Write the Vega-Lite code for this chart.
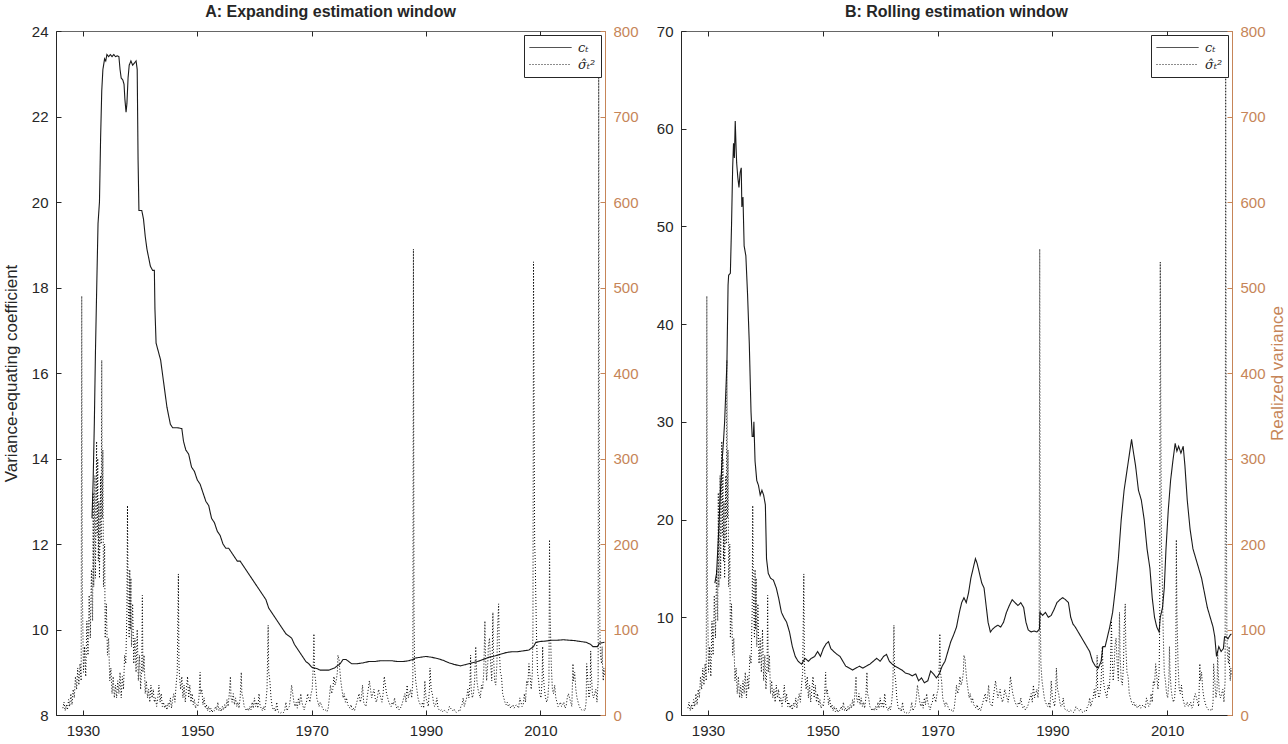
{
  "$schema": "https://vega.github.io/schema/vega-lite/v6.json",
  "background": "white",
  "padding": {"left": 1, "top": 3, "right": 0, "bottom": 0},
  "config": {
    "font": "Liberation Sans",
    "view": {"stroke": "#666666", "strokeWidth": 1},
    "axis": {"grid": false, "labelFont": "Liberation Sans", "labelFontSize": 15, "labelColor": "#262626", "domainColor": "#262626", "tickColor": "#262626", "tickSize": -5, "labelPadding": 13, "titleFont": "Liberation Sans", "titleFontSize": 17, "titleFontWeight": "normal", "titleColor": "#262626", "titlePadding": 11},
    "title": {"font": "Liberation Sans", "fontSize": 16, "fontWeight": "bold", "color": "#262626", "offset": 4},
    "legend": {"orient": "top-right", "offset": 4, "strokeColor": "#262626", "fillColor": "white", "padding": 5, "symbolType": "M-1,0H5", "symbolSize": 196, "symbolStrokeColor": "#1a1a1a", "symbolStrokeWidth": 1, "symbolFillColor": "transparent", "labelOffset": 34, "labelFont": "DejaVu Serif", "labelFontStyle": "italic", "labelFontSize": 13, "labelColor": "#262626", "rowPadding": 2, "title": null}
  },
  "datasets": {
    "rv": [
      {"t":1926.5,"v":8},{"t":1926.7,"v":15},{"t":1926.9,"v":5},{"t":1927.1,"v":12},{"t":1927.3,"v":6},{"t":1927.5,"v":18},{"t":1927.7,"v":10},{"t":1927.9,"v":25},{"t":1928.1,"v":12},{"t":1928.3,"v":30},{"t":1928.5,"v":20},{"t":1928.7,"v":45},{"t":1928.9,"v":30},{"t":1929.1,"v":55},{"t":1929.3,"v":35},{"t":1929.5,"v":60},{"t":1929.7,"v":40},{"t":1929.8,"v":490},{"t":1929.9,"v":150},
      {"t":1930.1,"v":50},{"t":1930.3,"v":80},{"t":1930.5,"v":45},{"t":1930.7,"v":110},{"t":1930.9,"v":70},{"t":1931.1,"v":140},{"t":1931.3,"v":90},{"t":1931.5,"v":170},{"t":1931.7,"v":110},{"t":1931.8,"v":260},{"t":1931.9,"v":150},{"t":1932.1,"v":280},{"t":1932.2,"v":160},{"t":1932.4,"v":320},{"t":1932.5,"v":210},{"t":1932.6,"v":300},{"t":1932.7,"v":180},{"t":1932.8,"v":250},{"t":1932.9,"v":160},{"t":1933.1,"v":280},{"t":1933.2,"v":200},{"t":1933.3,"v":415},{"t":1933.4,"v":230},{"t":1933.5,"v":310},{"t":1933.6,"v":150},{"t":1933.8,"v":200},{"t":1933.9,"v":90},
      {"t":1934.1,"v":130},{"t":1934.3,"v":70},{"t":1934.5,"v":90},{"t":1934.7,"v":40},{"t":1934.9,"v":55},{"t":1935.1,"v":25},{"t":1935.3,"v":45},{"t":1935.5,"v":20},{"t":1935.7,"v":35},{"t":1935.9,"v":20},{"t":1936.1,"v":40},{"t":1936.3,"v":25},{"t":1936.5,"v":50},{"t":1936.7,"v":20},{"t":1936.9,"v":45},{"t":1937.1,"v":30},{"t":1937.3,"v":70},{"t":1937.5,"v":60},{"t":1937.7,"v":120},{"t":1937.8,"v":245},{"t":1937.9,"v":140},
      {"t":1938.1,"v":90},{"t":1938.2,"v":170},{"t":1938.3,"v":100},{"t":1938.4,"v":160},{"t":1938.5,"v":80},{"t":1938.7,"v":130},{"t":1938.9,"v":60},{"t":1939.1,"v":90},{"t":1939.3,"v":50},{"t":1939.5,"v":100},{"t":1939.7,"v":40},{"t":1939.9,"v":70},{"t":1940.1,"v":30},{"t":1940.3,"v":60},{"t":1940.4,"v":140},{"t":1940.5,"v":50},{"t":1940.7,"v":70},{"t":1940.9,"v":25},
      {"t":1941.1,"v":40},{"t":1941.3,"v":20},{"t":1941.5,"v":30},{"t":1941.7,"v":15},{"t":1941.9,"v":35},{"t":1942.1,"v":20},{"t":1942.3,"v":30},{"t":1942.5,"v":15},{"t":1942.7,"v":20},{"t":1942.9,"v":10},{"t":1943.1,"v":20},{"t":1943.3,"v":35},{"t":1943.5,"v":15},{"t":1943.7,"v":25},{"t":1943.9,"v":10},{"t":1944.1,"v":15},{"t":1944.3,"v":8},{"t":1944.5,"v":12},{"t":1944.7,"v":6},{"t":1944.9,"v":14},
      {"t":1945.1,"v":10},{"t":1945.3,"v":20},{"t":1945.5,"v":8},{"t":1945.7,"v":18},{"t":1945.9,"v":25},{"t":1946.1,"v":15},{"t":1946.3,"v":35},{"t":1946.5,"v":50},{"t":1946.7,"v":165},{"t":1946.8,"v":60},{"t":1946.9,"v":45},{"t":1947.1,"v":30},{"t":1947.3,"v":45},{"t":1947.5,"v":20},{"t":1947.7,"v":35},{"t":1947.9,"v":15},{"t":1948.1,"v":30},{"t":1948.3,"v":45},{"t":1948.5,"v":20},{"t":1948.7,"v":35},{"t":1948.9,"v":15},{"t":1949.1,"v":25},{"t":1949.3,"v":12},{"t":1949.5,"v":18},{"t":1949.7,"v":8},{"t":1949.9,"v":12},
      {"t":1950.1,"v":10},{"t":1950.3,"v":20},{"t":1950.5,"v":50},{"t":1950.6,"v":25},{"t":1950.8,"v":30},{"t":1951.0,"v":12},{"t":1951.2,"v":20},{"t":1951.4,"v":8},{"t":1951.6,"v":12},{"t":1951.8,"v":5},{"t":1952.0,"v":10},{"t":1952.2,"v":4},{"t":1952.4,"v":8},{"t":1952.6,"v":3},{"t":1952.8,"v":6},{"t":1953.0,"v":5},{"t":1953.2,"v":10},{"t":1953.4,"v":6},{"t":1953.6,"v":15},{"t":1953.8,"v":5},{"t":1954.0,"v":8},{"t":1954.2,"v":4},{"t":1954.4,"v":10},{"t":1954.6,"v":6},{"t":1954.8,"v":12},
      {"t":1955.0,"v":8},{"t":1955.2,"v":18},{"t":1955.4,"v":10},{"t":1955.6,"v":25},{"t":1955.8,"v":45},{"t":1955.9,"v":20},{"t":1956.1,"v":15},{"t":1956.3,"v":25},{"t":1956.5,"v":12},{"t":1956.7,"v":20},{"t":1956.9,"v":10},{"t":1957.1,"v":15},{"t":1957.3,"v":8},{"t":1957.5,"v":20},{"t":1957.7,"v":50},{"t":1957.8,"v":25},{"t":1958.0,"v":20},{"t":1958.2,"v":10},{"t":1958.4,"v":8},{"t":1958.6,"v":5},{"t":1958.8,"v":8},{"t":1959.0,"v":5},{"t":1959.2,"v":10},{"t":1959.4,"v":6},{"t":1959.6,"v":15},{"t":1959.8,"v":8},
      {"t":1960.0,"v":20},{"t":1960.2,"v":10},{"t":1960.4,"v":15},{"t":1960.6,"v":8},{"t":1960.8,"v":25},{"t":1961.0,"v":10},{"t":1961.2,"v":8},{"t":1961.4,"v":5},{"t":1961.6,"v":10},{"t":1961.8,"v":6},{"t":1962.0,"v":15},{"t":1962.2,"v":30},{"t":1962.4,"v":105},{"t":1962.5,"v":50},{"t":1962.7,"v":40},{"t":1962.9,"v":20},{"t":1963.1,"v":10},{"t":1963.3,"v":6},{"t":1963.5,"v":8},{"t":1963.7,"v":4},{"t":1963.9,"v":15},{"t":1964.1,"v":4},{"t":1964.3,"v":3},{"t":1964.5,"v":2},{"t":1964.7,"v":3},{"t":1964.9,"v":2},
      {"t":1965.1,"v":3},{"t":1965.3,"v":6},{"t":1965.5,"v":15},{"t":1965.7,"v":5},{"t":1965.9,"v":8},{"t":1966.1,"v":10},{"t":1966.3,"v":20},{"t":1966.5,"v":35},{"t":1966.7,"v":25},{"t":1966.9,"v":15},{"t":1967.1,"v":10},{"t":1967.3,"v":15},{"t":1967.5,"v":8},{"t":1967.7,"v":20},{"t":1967.9,"v":12},{"t":1968.1,"v":25},{"t":1968.3,"v":15},{"t":1968.5,"v":10},{"t":1968.7,"v":6},{"t":1968.9,"v":12},{"t":1969.1,"v":15},{"t":1969.3,"v":25},{"t":1969.5,"v":20},{"t":1969.7,"v":15},{"t":1969.9,"v":25},
      {"t":1970.1,"v":30},{"t":1970.3,"v":60},{"t":1970.4,"v":95},{"t":1970.5,"v":50},{"t":1970.7,"v":40},{"t":1970.9,"v":20},{"t":1971.1,"v":15},{"t":1971.3,"v":10},{"t":1971.5,"v":15},{"t":1971.7,"v":12},{"t":1971.9,"v":8},{"t":1972.1,"v":6},{"t":1972.3,"v":5},{"t":1972.5,"v":6},{"t":1972.7,"v":4},{"t":1972.9,"v":8},{"t":1973.1,"v":20},{"t":1973.3,"v":35},{"t":1973.5,"v":25},{"t":1973.7,"v":30},{"t":1973.9,"v":45},{"t":1974.1,"v":35},{"t":1974.3,"v":40},{"t":1974.5,"v":50},{"t":1974.6,"v":70},{"t":1974.8,"v":65},{"t":1974.9,"v":55},
      {"t":1975.1,"v":40},{"t":1975.3,"v":30},{"t":1975.5,"v":20},{"t":1975.7,"v":25},{"t":1975.9,"v":15},{"t":1976.1,"v":20},{"t":1976.3,"v":12},{"t":1976.5,"v":10},{"t":1976.7,"v":8},{"t":1976.9,"v":12},{"t":1977.1,"v":6},{"t":1977.3,"v":8},{"t":1977.5,"v":5},{"t":1977.7,"v":10},{"t":1977.9,"v":15},{"t":1978.1,"v":20},{"t":1978.3,"v":25},{"t":1978.5,"v":15},{"t":1978.7,"v":20},{"t":1978.9,"v":35},{"t":1979.1,"v":15},{"t":1979.3,"v":12},{"t":1979.5,"v":10},{"t":1979.7,"v":20},{"t":1979.9,"v":30},
      {"t":1980.1,"v":40},{"t":1980.3,"v":30},{"t":1980.5,"v":20},{"t":1980.7,"v":25},{"t":1980.9,"v":30},{"t":1981.1,"v":20},{"t":1981.3,"v":15},{"t":1981.5,"v":20},{"t":1981.7,"v":30},{"t":1981.9,"v":25},{"t":1982.1,"v":20},{"t":1982.3,"v":15},{"t":1982.5,"v":25},{"t":1982.7,"v":45},{"t":1982.9,"v":35},{"t":1983.1,"v":25},{"t":1983.3,"v":20},{"t":1983.5,"v":15},{"t":1983.7,"v":12},{"t":1983.9,"v":10},{"t":1984.1,"v":15},{"t":1984.3,"v":12},{"t":1984.5,"v":20},{"t":1984.7,"v":12},{"t":1984.9,"v":8},
      {"t":1985.1,"v":10},{"t":1985.3,"v":6},{"t":1985.5,"v":8},{"t":1985.7,"v":10},{"t":1985.9,"v":15},{"t":1986.1,"v":20},{"t":1986.3,"v":25},{"t":1986.5,"v":15},{"t":1986.7,"v":35},{"t":1986.9,"v":20},{"t":1987.1,"v":25},{"t":1987.3,"v":30},{"t":1987.5,"v":20},{"t":1987.7,"v":40},{"t":1987.8,"v":545},{"t":1987.9,"v":120},{"t":1988.0,"v":60},{"t":1988.2,"v":40},{"t":1988.4,"v":30},{"t":1988.6,"v":20},{"t":1988.8,"v":15},{"t":1989.0,"v":12},{"t":1989.2,"v":10},{"t":1989.4,"v":15},{"t":1989.6,"v":8},{"t":1989.8,"v":40},
      {"t":1990.0,"v":20},{"t":1990.2,"v":15},{"t":1990.4,"v":10},{"t":1990.6,"v":30},{"t":1990.7,"v":55},{"t":1990.9,"v":30},{"t":1991.1,"v":25},{"t":1991.3,"v":15},{"t":1991.5,"v":10},{"t":1991.7,"v":12},{"t":1991.9,"v":20},{"t":1992.1,"v":8},{"t":1992.3,"v":6},{"t":1992.5,"v":5},{"t":1992.7,"v":6},{"t":1992.9,"v":4},{"t":1993.1,"v":6},{"t":1993.3,"v":5},{"t":1993.5,"v":4},{"t":1993.7,"v":3},{"t":1993.9,"v":5},{"t":1994.1,"v":10},{"t":1994.3,"v":8},{"t":1994.5,"v":6},{"t":1994.7,"v":5},{"t":1994.9,"v":7},
      {"t":1995.1,"v":4},{"t":1995.3,"v":3},{"t":1995.5,"v":4},{"t":1995.7,"v":5},{"t":1995.9,"v":4},{"t":1996.1,"v":10},{"t":1996.3,"v":12},{"t":1996.5,"v":20},{"t":1996.7,"v":10},{"t":1996.9,"v":15},{"t":1997.1,"v":20},{"t":1997.3,"v":30},{"t":1997.5,"v":20},{"t":1997.7,"v":40},{"t":1997.8,"v":70},{"t":1997.9,"v":30},{"t":1998.1,"v":20},{"t":1998.3,"v":25},{"t":1998.5,"v":40},{"t":1998.7,"v":80},{"t":1998.8,"v":60},{"t":1998.9,"v":40},{"t":1999.1,"v":30},{"t":1999.3,"v":25},{"t":1999.5,"v":20},{"t":1999.7,"v":35},{"t":1999.9,"v":30},
      {"t":2000.1,"v":50},{"t":2000.3,"v":110},{"t":2000.4,"v":70},{"t":2000.6,"v":40},{"t":2000.8,"v":60},{"t":2000.9,"v":80},{"t":2001.1,"v":90},{"t":2001.3,"v":60},{"t":2001.5,"v":40},{"t":2001.7,"v":120},{"t":2001.8,"v":70},{"t":2002.0,"v":40},{"t":2002.2,"v":35},{"t":2002.4,"v":60},{"t":2002.5,"v":100},{"t":2002.7,"v":130},{"t":2002.8,"v":80},{"t":2003.0,"v":50},{"t":2003.2,"v":45},{"t":2003.4,"v":25},{"t":2003.6,"v":20},{"t":2003.8,"v":15},{"t":2004.0,"v":12},{"t":2004.2,"v":15},{"t":2004.4,"v":10},{"t":2004.6,"v":12},{"t":2004.8,"v":8},
      {"t":2005.0,"v":10},{"t":2005.2,"v":12},{"t":2005.4,"v":8},{"t":2005.6,"v":10},{"t":2005.8,"v":12},{"t":2006.0,"v":10},{"t":2006.2,"v":8},{"t":2006.4,"v":20},{"t":2006.6,"v":15},{"t":2006.8,"v":10},{"t":2007.0,"v":12},{"t":2007.2,"v":25},{"t":2007.4,"v":15},{"t":2007.6,"v":40},{"t":2007.8,"v":35},{"t":2008.0,"v":60},{"t":2008.2,"v":45},{"t":2008.4,"v":30},{"t":2008.6,"v":50},{"t":2008.7,"v":100},{"t":2008.8,"v":530},{"t":2008.9,"v":350},{"t":2009.0,"v":200},{"t":2009.1,"v":180},{"t":2009.3,"v":100},{"t":2009.5,"v":50},{"t":2009.7,"v":40},{"t":2009.9,"v":25},
      {"t":2010.1,"v":20},{"t":2010.3,"v":40},{"t":2010.4,"v":80},{"t":2010.5,"v":50},{"t":2010.7,"v":30},{"t":2010.9,"v":20},{"t":2011.1,"v":15},{"t":2011.3,"v":20},{"t":2011.5,"v":40},{"t":2011.6,"v":205},{"t":2011.7,"v":120},{"t":2011.9,"v":60},{"t":2012.1,"v":30},{"t":2012.3,"v":25},{"t":2012.5,"v":35},{"t":2012.7,"v":20},{"t":2012.9,"v":15},{"t":2013.1,"v":10},{"t":2013.3,"v":12},{"t":2013.5,"v":15},{"t":2013.7,"v":10},{"t":2013.9,"v":12},{"t":2014.1,"v":15},{"t":2014.3,"v":8},{"t":2014.5,"v":10},{"t":2014.7,"v":20},{"t":2014.9,"v":25},
      {"t":2015.1,"v":20},{"t":2015.3,"v":15},{"t":2015.5,"v":10},{"t":2015.7,"v":60},{"t":2015.8,"v":40},{"t":2016.0,"v":50},{"t":2016.2,"v":30},{"t":2016.4,"v":20},{"t":2016.6,"v":15},{"t":2016.8,"v":10},{"t":2017.0,"v":8},{"t":2017.2,"v":6},{"t":2017.4,"v":5},{"t":2017.6,"v":6},{"t":2017.8,"v":5},{"t":2018.0,"v":15},{"t":2018.1,"v":60},{"t":2018.3,"v":40},{"t":2018.5,"v":20},{"t":2018.7,"v":30},{"t":2018.8,"v":75},{"t":2018.9,"v":50},{"t":2019.1,"v":25},{"t":2019.3,"v":20},{"t":2019.5,"v":25},{"t":2019.7,"v":30},{"t":2019.9,"v":15},
      {"t":2020.1,"v":40},{"t":2020.2,"v":745},{"t":2020.3,"v":300},{"t":2020.4,"v":100},{"t":2020.5,"v":70},{"t":2020.7,"v":60},{"t":2020.8,"v":80},{"t":2020.9,"v":50},{"t":2021.0,"v":40},{"t":2021.1,"v":55},{"t":2021.2,"v":45}
    ],
    "ca": [
      {"t":1931.6,"c":12.6},{"t":1931.8,"c":13.5},{"t":1932.0,"c":14.8},{"t":1932.2,"c":16.5},{"t":1932.45,"c":18.2},{"t":1932.65,"c":19.5},{"t":1932.9,"c":20.0},{"t":1933.1,"c":21.5},{"t":1933.3,"c":22.6},{"t":1933.5,"c":23.1},{"t":1933.8,"c":23.35},{"t":1934.0,"c":23.3},{"t":1934.2,"c":23.45},{"t":1934.5,"c":23.4},{"t":1934.8,"c":23.45},{"t":1935.1,"c":23.4},{"t":1935.4,"c":23.45},{"t":1935.7,"c":23.4},{"t":1936.0,"c":23.42},{"t":1936.3,"c":23.4},{"t":1936.5,"c":23.1},{"t":1936.7,"c":22.9},{"t":1937.0,"c":22.85},{"t":1937.2,"c":22.75},{"t":1937.35,"c":22.4},{"t":1937.55,"c":22.1},{"t":1937.7,"c":22.3},{"t":1937.9,"c":22.9},{"t":1938.1,"c":23.2},{"t":1938.4,"c":23.3},{"t":1938.7,"c":23.2},{"t":1939.0,"c":23.25},{"t":1939.3,"c":23.3},{"t":1939.5,"c":23.1},{"t":1939.65,"c":21.0},{"t":1939.8,"c":19.8},{"t":1940.3,"c":19.8},{"t":1940.6,"c":19.6},{"t":1940.9,"c":19.2},{"t":1941.2,"c":18.9},{"t":1941.5,"c":18.7},{"t":1941.8,"c":18.5},{"t":1942.2,"c":18.4},{"t":1942.5,"c":18.4},{"t":1942.6,"c":17.5},{"t":1942.8,"c":16.7},{"t":1943.2,"c":16.5},{"t":1943.6,"c":16.3},{"t":1944.0,"c":15.9},{"t":1944.3,"c":15.6},{"t":1944.7,"c":15.2},{"t":1945.0,"c":15.0},{"t":1945.3,"c":14.8},{"t":1945.7,"c":14.72},{"t":1946.5,"c":14.72},{"t":1947.3,"c":14.7},{"t":1947.6,"c":14.4},{"t":1948.0,"c":14.2},{"t":1948.5,"c":14.1},{"t":1949.0,"c":13.8},{"t":1949.5,"c":13.7},{"t":1950.0,"c":13.5},{"t":1950.5,"c":13.4},{"t":1951.0,"c":13.2},{"t":1951.5,"c":13.0},{"t":1952.0,"c":12.9},{"t":1952.5,"c":12.6},{"t":1953.0,"c":12.5},{"t":1953.5,"c":12.3},{"t":1954.0,"c":12.2},{"t":1954.5,"c":12.0},{"t":1955.0,"c":11.9},{"t":1955.5,"c":11.9},{"t":1956.0,"c":11.8},{"t":1956.5,"c":11.7},{"t":1957.0,"c":11.6},{"t":1957.5,"c":11.6},{"t":1958.0,"c":11.5},{"t":1958.5,"c":11.4},{"t":1959.0,"c":11.3},{"t":1959.5,"c":11.2},{"t":1960.0,"c":11.1},{"t":1960.5,"c":11.0},{"t":1961.0,"c":10.9},{"t":1961.5,"c":10.8},{"t":1962.0,"c":10.7},{"t":1962.5,"c":10.5},{"t":1963.0,"c":10.4},{"t":1963.5,"c":10.3},{"t":1964.0,"c":10.2},{"t":1964.5,"c":10.1},{"t":1965.0,"c":10.0},{"t":1965.5,"c":9.9},{"t":1966.0,"c":9.85},{"t":1966.5,"c":9.8},{"t":1967.0,"c":9.65},{"t":1967.5,"c":9.55},{"t":1968.0,"c":9.45},{"t":1968.5,"c":9.35},{"t":1969.0,"c":9.25},{"t":1969.5,"c":9.2},{"t":1970.0,"c":9.12},{"t":1970.5,"c":9.1},{"t":1971.0,"c":9.08},{"t":1971.5,"c":9.05},{"t":1972.0,"c":9.05},{"t":1973.0,"c":9.05},{"t":1974.0,"c":9.1},{"t":1974.5,"c":9.15},{"t":1975.0,"c":9.2},{"t":1975.5,"c":9.3},{"t":1976.0,"c":9.3},{"t":1976.5,"c":9.25},{"t":1977.0,"c":9.2},{"t":1978.0,"c":9.2},{"t":1979.0,"c":9.22},{"t":1980.0,"c":9.25},{"t":1981.0,"c":9.25},{"t":1982.0,"c":9.27},{"t":1983.0,"c":9.27},{"t":1984.0,"c":9.27},{"t":1985.0,"c":9.25},{"t":1986.0,"c":9.25},{"t":1987.0,"c":9.27},{"t":1987.8,"c":9.3},{"t":1988.0,"c":9.33},{"t":1989.0,"c":9.35},{"t":1990.0,"c":9.37},{"t":1991.0,"c":9.35},{"t":1992.0,"c":9.32},{"t":1993.0,"c":9.28},{"t":1994.0,"c":9.22},{"t":1995.0,"c":9.18},{"t":1996.0,"c":9.15},{"t":1997.0,"c":9.18},{"t":1998.0,"c":9.22},{"t":1999.0,"c":9.25},{"t":2000.0,"c":9.3},{"t":2001.0,"c":9.35},{"t":2002.0,"c":9.38},{"t":2003.0,"c":9.42},{"t":2004.0,"c":9.46},{"t":2005.0,"c":9.48},{"t":2006.0,"c":9.48},{"t":2007.0,"c":9.5},{"t":2008.0,"c":9.52},{"t":2008.8,"c":9.6},{"t":2009.2,"c":9.7},{"t":2010.0,"c":9.72},{"t":2011.0,"c":9.73},{"t":2012.0,"c":9.75},{"t":2013.0,"c":9.75},{"t":2014.0,"c":9.76},{"t":2015.0,"c":9.75},{"t":2016.0,"c":9.74},{"t":2017.0,"c":9.72},{"t":2018.0,"c":9.7},{"t":2018.8,"c":9.65},{"t":2019.2,"c":9.6},{"t":2020.0,"c":9.6},{"t":2020.3,"c":9.68},{"t":2021.2,"c":9.7}
    ],
    "cb": [
      {"t":1931.2,"c":13.5},{"t":1931.5,"c":14.5},{"t":1931.8,"c":18},{"t":1932.1,"c":22},{"t":1932.4,"c":25.5},{"t":1932.7,"c":28},{"t":1932.9,"c":30},{"t":1933.1,"c":33},{"t":1933.3,"c":36},{"t":1933.5,"c":44},{"t":1933.6,"c":45},{"t":1933.9,"c":45.2},{"t":1934.1,"c":50},{"t":1934.3,"c":56},{"t":1934.45,"c":58.5},{"t":1934.6,"c":57},{"t":1934.75,"c":60.8},{"t":1934.9,"c":58},{"t":1935.0,"c":56.5},{"t":1935.2,"c":55},{"t":1935.4,"c":54},{"t":1935.6,"c":55.5},{"t":1935.8,"c":56},{"t":1935.9,"c":52},{"t":1936.1,"c":53},{"t":1936.3,"c":48},{"t":1936.6,"c":47},{"t":1936.9,"c":43},{"t":1937.2,"c":38},{"t":1937.5,"c":31},{"t":1937.7,"c":28.5},{"t":1937.9,"c":28.5},{"t":1938.0,"c":30},{"t":1938.2,"c":26},{"t":1938.5,"c":24},{"t":1938.8,"c":23.5},{"t":1939.1,"c":22.5},{"t":1939.4,"c":23},{"t":1939.7,"c":22.5},{"t":1940.0,"c":21.5},{"t":1940.2,"c":16},{"t":1940.5,"c":14.5},{"t":1940.9,"c":14},{"t":1941.4,"c":13.8},{"t":1941.9,"c":13},{"t":1942.3,"c":12},{"t":1942.8,"c":10.5},{"t":1943.2,"c":10},{"t":1943.7,"c":9.5},{"t":1944.2,"c":8.5},{"t":1944.7,"c":7},{"t":1945.2,"c":6},{"t":1945.7,"c":5.5},{"t":1946.3,"c":5.2},{"t":1946.9,"c":5.8},{"t":1947.5,"c":5.5},{"t":1948.0,"c":5.8},{"t":1948.6,"c":6},{"t":1949.1,"c":6.5},{"t":1949.6,"c":6},{"t":1950.1,"c":6.8},{"t":1950.6,"c":7.3},{"t":1951.0,"c":7.5},{"t":1951.4,"c":6.8},{"t":1951.9,"c":6.5},{"t":1952.5,"c":6.2},{"t":1953.0,"c":6},{"t":1953.5,"c":5.5},{"t":1954.0,"c":5},{"t":1954.6,"c":4.8},{"t":1955.2,"c":4.6},{"t":1955.8,"c":4.8},{"t":1956.4,"c":5},{"t":1957.0,"c":4.8},{"t":1957.6,"c":5},{"t":1958.2,"c":5.2},{"t":1958.8,"c":5.5},{"t":1959.4,"c":5.8},{"t":1960.0,"c":5.5},{"t":1960.6,"c":6},{"t":1961.1,"c":6.2},{"t":1961.6,"c":5.5},{"t":1962.1,"c":5.2},{"t":1962.6,"c":5},{"t":1963.2,"c":4.8},{"t":1963.8,"c":4.6},{"t":1964.4,"c":4.3},{"t":1965.0,"c":4.2},{"t":1965.6,"c":4},{"t":1966.2,"c":4.2},{"t":1966.7,"c":3.5},{"t":1967.2,"c":3.8},{"t":1967.7,"c":3.3},{"t":1968.3,"c":3.5},{"t":1968.8,"c":4.5},{"t":1969.3,"c":4.2},{"t":1969.8,"c":3.8},{"t":1970.3,"c":4.2},{"t":1970.8,"c":5},{"t":1971.3,"c":5.5},{"t":1971.8,"c":6.5},{"t":1972.3,"c":7.5},{"t":1972.8,"c":8.2},{"t":1973.3,"c":9},{"t":1973.8,"c":10.5},{"t":1974.2,"c":11.5},{"t":1974.6,"c":12},{"t":1975.0,"c":11.5},{"t":1975.4,"c":12.5},{"t":1975.8,"c":14},{"t":1976.2,"c":15},{"t":1976.6,"c":16},{"t":1976.9,"c":15.5},{"t":1977.3,"c":14.5},{"t":1977.7,"c":13.5},{"t":1978.1,"c":13},{"t":1978.4,"c":11.5},{"t":1978.8,"c":9.5},{"t":1979.2,"c":8.5},{"t":1979.6,"c":8.8},{"t":1980.0,"c":9},{"t":1980.5,"c":9.2},{"t":1981.0,"c":9},{"t":1981.5,"c":9.5},{"t":1982.0,"c":10.5},{"t":1982.5,"c":11.2},{"t":1983.0,"c":11.8},{"t":1983.5,"c":11.5},{"t":1984.0,"c":11.2},{"t":1984.5,"c":11.5},{"t":1985.0,"c":11},{"t":1985.4,"c":9.5},{"t":1985.8,"c":8.7},{"t":1986.3,"c":8.5},{"t":1986.8,"c":8.6},{"t":1987.3,"c":8.5},{"t":1987.75,"c":8.8},{"t":1987.85,"c":10.5},{"t":1988.3,"c":10.2},{"t":1988.8,"c":10.5},{"t":1989.3,"c":10},{"t":1989.8,"c":10.2},{"t":1990.3,"c":10.8},{"t":1990.8,"c":11.5},{"t":1991.3,"c":11.8},{"t":1991.8,"c":12},{"t":1992.3,"c":11.8},{"t":1992.8,"c":11.5},{"t":1993.2,"c":10},{"t":1993.6,"c":9.3},{"t":1994.0,"c":9},{"t":1994.5,"c":8.5},{"t":1995.0,"c":8},{"t":1995.5,"c":7.5},{"t":1996.0,"c":7},{"t":1996.5,"c":6.5},{"t":1997.0,"c":5.5},{"t":1997.5,"c":5},{"t":1998.0,"c":4.8},{"t":1998.5,"c":5.5},{"t":1998.8,"c":7},{"t":1999.2,"c":7},{"t":1999.6,"c":8},{"t":2000.0,"c":9},{"t":2000.5,"c":10.5},{"t":2001.0,"c":13},{"t":2001.5,"c":16},{"t":2002.0,"c":20},{"t":2002.5,"c":23},{"t":2003.0,"c":25},{"t":2003.5,"c":27},{"t":2003.8,"c":28.2},{"t":2004.1,"c":27},{"t":2004.5,"c":25.5},{"t":2005.0,"c":23},{"t":2005.5,"c":22},{"t":2006.0,"c":20},{"t":2006.5,"c":17},{"t":2007.0,"c":15},{"t":2007.4,"c":12},{"t":2007.8,"c":10},{"t":2008.2,"c":9},{"t":2008.6,"c":8.5},{"t":2008.8,"c":10},{"t":2009.2,"c":11},{"t":2009.5,"c":13},{"t":2009.8,"c":17},{"t":2010.2,"c":21},{"t":2010.6,"c":24},{"t":2011.0,"c":26},{"t":2011.4,"c":27.8},{"t":2011.7,"c":27},{"t":2012.0,"c":27.5},{"t":2012.4,"c":26.8},{"t":2012.8,"c":27.5},{"t":2013.1,"c":25.5},{"t":2013.5,"c":22},{"t":2014.0,"c":19},{"t":2014.5,"c":17},{"t":2015.0,"c":16},{"t":2015.5,"c":15},{"t":2016.0,"c":14},{"t":2016.5,"c":12.5},{"t":2017.0,"c":11},{"t":2017.5,"c":10},{"t":2018.0,"c":9},{"t":2018.3,"c":8},{"t":2018.6,"c":6},{"t":2019.0,"c":7},{"t":2019.4,"c":6.5},{"t":2019.8,"c":6.8},{"t":2020.0,"c":8},{"t":2020.3,"c":8},{"t":2020.6,"c":7.8},{"t":2021.0,"c":8.2},{"t":2021.2,"c":8.3}
    ]
  },
  "spacing": 16,
  "hconcat": [
    {
      "title": "A: Expanding estimation window",
      "width": 549,
      "height": 684,
      "layer": [
        {
          "data": {"name": "ca"},
          "mark": {"type": "line", "color": "#1a1a1a", "strokeWidth": 1.1},
          "encoding": {
            "x": {"field": "t", "type": "quantitative", "scale": {"domain": [1925.3, 2021.3], "nice": false, "zero": false}, "axis": {"values": [1930, 1950, 1970, 1990, 2010], "format": "d", "title": null}},
            "y": {"field": "c", "type": "quantitative", "scale": {"domain": [8, 24], "nice": false, "zero": false}, "axis": {"values": [8, 10, 12, 14, 16, 18, 20, 22, 24], "title": "Variance-equating coefficient"}},
            "strokeDash": {"datum": "c\u209c", "type": "nominal", "scale": {"domain": ["c\u209c", "\u03c3\u0302\u209c\u00b2"], "range": [[1, 0], [1, 2]]}, "legend": {"orient": "top-right"}}
          }
        },
        {
          "data": {"name": "rv"},
          "mark": {"type": "line", "color": "#000000", "strokeWidth": 1},
          "encoding": {
            "x": {"field": "t", "type": "quantitative", "axis": {"orient": "top", "labels": false, "domain": false, "values": [1930, 1950, 1970, 1990, 2010], "title": null}},
            "y": {"field": "v", "type": "quantitative", "scale": {"domain": [0, 800], "nice": false}, "axis": {"orient": "right", "values": [0, 100, 200, 300, 400, 500, 600, 700, 800], "title": null, "labelColor": "#C68558", "domainColor": "#C68558", "tickColor": "#C68558"}},
            "strokeDash": {"datum": "\u03c3\u0302\u209c\u00b2", "type": "nominal"}
          }
        }
      ],
      "resolve": {"scale": {"y": "independent"}, "axis": {"x": "independent"}}
    },
    {
      "title": "B: Rolling estimation window",
      "width": 551,
      "height": 684,
      "layer": [
        {
          "data": {"name": "cb"},
          "mark": {"type": "line", "color": "#1a1a1a", "strokeWidth": 1.1},
          "encoding": {
            "x": {"field": "t", "type": "quantitative", "scale": {"domain": [1925.3, 2021.3], "nice": false, "zero": false}, "axis": {"values": [1930, 1950, 1970, 1990, 2010], "format": "d", "title": null}},
            "y": {"field": "c", "type": "quantitative", "scale": {"domain": [0, 70], "nice": false}, "axis": {"values": [0, 10, 20, 30, 40, 50, 60, 70], "title": null}},
            "strokeDash": {"datum": "c\u209c", "type": "nominal", "scale": {"domain": ["c\u209c", "\u03c3\u0302\u209c\u00b2"], "range": [[1, 0], [1, 2]]}, "legend": {"orient": "top-right"}}
          }
        },
        {
          "data": {"name": "rv"},
          "mark": {"type": "line", "color": "#000000", "strokeWidth": 1},
          "encoding": {
            "x": {"field": "t", "type": "quantitative", "axis": {"orient": "top", "labels": false, "domain": false, "values": [1930, 1950, 1970, 1990, 2010], "title": null}},
            "y": {"field": "v", "type": "quantitative", "scale": {"domain": [0, 800], "nice": false}, "axis": {"orient": "right", "values": [0, 100, 200, 300, 400, 500, 600, 700, 800], "title": "Realized variance", "titleAngle": 270, "titleBaseline": "top", "titlePadding": 4, "titleColor": "#C68558", "labelColor": "#C68558", "domainColor": "#C68558", "tickColor": "#C68558"}},
            "strokeDash": {"datum": "\u03c3\u0302\u209c\u00b2", "type": "nominal"}
          }
        }
      ],
      "resolve": {"scale": {"y": "independent"}, "axis": {"x": "independent"}}
    }
  ],
  "resolve": {"scale": {"strokeDash": "independent"}, "legend": {"strokeDash": "independent"}}
}
